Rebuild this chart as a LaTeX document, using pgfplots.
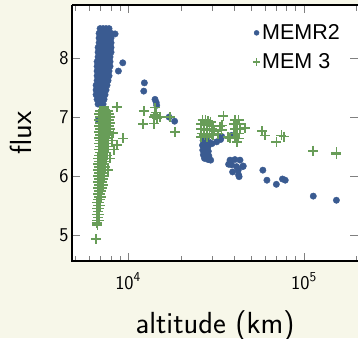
\documentclass[border=0pt]{standalone}
\usepackage{fontspec}
\usepackage{pgfplots}
\pgfplotsset{compat=1.18}
\usetikzlibrary{backgrounds}
\renewcommand{\familydefault}{\sfdefault}
\newfontfamily\legfont{Liberation Sans}
\definecolor{bgcream}{RGB}{247,247,233}
\definecolor{memblue}{RGB}{58,91,145}
\definecolor{memgreen}{RGB}{104,157,88}
\begin{document}
\begin{tikzpicture}
\begin{axis}[
 at={(0pt,0pt)}, anchor=south west,
 scale only axis, width=286pt, height=256pt,
 xmode=log, xmin=4800, xmax=203000, ymin=4.56, ymax=8.9,
 xtick={10000,100000}, xticklabels={10\textsuperscript{4},10\textsuperscript{5}},
 minor xtick={5000,6000,7000,8000,9000,20000,30000,40000,50000,60000,70000,80000,90000,200000},
 ytick={5,6,7,8},
 /pgf/number format/assume math mode=true,
 axis line style={draw=none},
 axis background/.style={fill=white},
 tick style={draw=gray, line width=0.8pt},
 major tick length=8pt, minor tick length=5.5pt,
 ticklabel style={font=\fontsize{19.5}{23}\selectfont},
 xticklabel style={yshift=-8pt},
 label style={font=\fontsize{30.5}{36}\selectfont},
 xlabel={altitude (km)}, ylabel={flux},
 xlabel style={at={(axis description cs:0.5,-0.28125)}, anchor=base},
 ylabel style={at={(axis description cs:-0.14,0.5)}, anchor=base},
 legend style={draw=none, fill=none, at={(axis description cs:0.9476,0.936)}, anchor=north east, font=\legfont\fontsize{21.5}{25}\selectfont, row sep=8.6pt, inner sep=1pt, nodes={inner sep=2pt}},
 legend cell align=left,
 after end axis/.code={
   \draw[black, line width=1.6pt] (rel axis cs:0,1) -- (rel axis cs:0,0) -- (rel axis cs:1,0);
   \draw[black, line width=1.3pt] (rel axis cs:0,1) -- (rel axis cs:1,1);
 },
]
\addplot[only marks, mark=*, mark size=3.2pt, color=memblue, mark options={draw=memblue, fill=memblue}, legend image post style={mark size=2.5pt}] coordinates {
(6933,8.50)(7211,8.50)(7499,8.50)(7799,8.50)
(6843,8.42)(7118,8.42)(7402,8.42)(7698,8.42)(8006,8.42)
(6843,8.34)(7025,8.34)(7306,8.34)(7598,8.34)(7901,8.34)(8006,8.34)
(6843,8.26)(7118,8.26)(7402,8.26)(7698,8.26)(8006,8.26)
(6754,8.18)(7025,8.18)(7306,8.18)(7598,8.18)(7901,8.18)(8006,8.18)
(6754,8.10)(7118,8.10)(7402,8.10)(7698,8.10)(8006,8.10)
(6754,8.02)(7025,8.02)(7306,8.02)(7598,8.02)(7901,8.02)
(6667,7.94)(6933,7.94)(7211,7.94)(7499,7.94)(7901,7.94)
(6667,7.86)(7025,7.86)(7306,7.86)(7598,7.86)(7901,7.86)
(6667,7.78)(6933,7.78)(7211,7.78)(7499,7.78)(7799,7.78)
(6667,7.70)(7025,7.70)(7306,7.70)(7598,7.70)(7799,7.70)
(6667,7.62)(6933,7.62)(7211,7.62)(7499,7.62)(7698,7.62)
(6580,7.54)(6843,7.54)(7118,7.54)(7402,7.54)(7598,7.54)
(6580,7.46)(6843,7.46)(7118,7.46)(7402,7.46)(7499,7.46)
(6580,7.38)(6843,7.38)(7118,7.38)(7402,7.38)
(6667,7.30)(6933,7.30)(7211,7.30)(7306,7.30)
(6754,7.22)(7025,7.22)(7211,7.22)
(8440,8.41)(9330,7.92)(8810,7.78)(6780,6.95)
(12380,7.58)(12280,7.44)(14230,7.30)(14450,7.25)(14550,7.20)(17100,7.00)(18400,6.93)
(26700,6.60)(27800,6.60)(28800,6.58)(26500,6.52)(27500,6.52)(28500,6.50)
(26600,6.44)(27600,6.44)(28600,6.42)(26800,6.36)(27800,6.36)(28800,6.34)
(27200,6.30)(28500,6.28)(29500,6.27)(30000,6.55)(31900,6.58)(33600,6.62)(34100,6.67)(38800,6.69)
(38000,6.27)(40500,6.28)(43300,6.27)(38800,6.19)(44900,6.16)(39300,6.07)
(42300,6.10)(42800,5.99)(41400,6.16)(37300,6.20)(45200,6.17)(42500,6.02)
(58400,6.10)(61600,5.93)(69700,5.86)(75500,5.95)(78300,5.93)(113000,5.66)(153000,5.59)
};
\addlegendentry{MEMR2}
\addplot[only marks, mark=+, mark size=5pt, color=memgreen, line width=1.6pt, legend image post style={mark size=3.6pt}] coordinates {
(6933,7.10)(7118,7.10)(7306,7.10)(7499,7.10)(7698,7.10)
(6843,7.05)(7025,7.05)(7211,7.05)(7402,7.05)(7598,7.05)(7799,7.05)
(6933,7.00)(7118,7.00)(7306,7.00)(7499,7.00)(7698,7.00)(7901,7.00)
(6843,6.95)(7025,6.95)(7211,6.95)(7402,6.95)(7598,6.95)(7799,6.95)
(6933,6.90)(7118,6.90)(7306,6.90)(7499,6.90)(7698,6.90)(7901,6.90)
(6843,6.85)(7025,6.85)(7211,6.85)(7402,6.85)(7598,6.85)(7799,6.85)
(6933,6.80)(7118,6.80)(7306,6.80)(7499,6.80)(7698,6.80)(7901,6.80)
(6843,6.75)(7025,6.75)(7211,6.75)(7402,6.75)(7598,6.75)(7799,6.75)
(6933,6.70)(7118,6.70)(7306,6.70)(7499,6.70)(7698,6.70)
(6843,6.65)(7025,6.65)(7211,6.65)(7402,6.65)(7598,6.65)
(6933,6.60)(7118,6.60)(7306,6.60)(7499,6.60)(7698,6.60)
(6843,6.55)(7025,6.55)(7211,6.55)(7402,6.55)(7598,6.55)
(6933,6.50)(7118,6.50)(7306,6.50)(7499,6.50)(7698,6.50)
(6843,6.45)(7025,6.45)(7211,6.45)(7402,6.45)(7598,6.45)
(6933,6.40)(7118,6.40)(7306,6.40)(7499,6.40)
(6843,6.35)(7025,6.35)(7211,6.35)(7402,6.35)(7598,6.35)
(6754,6.30)(6933,6.30)(7118,6.30)(7306,6.30)(7499,6.30)
(6843,6.25)(7025,6.25)(7211,6.25)(7402,6.25)
(6754,6.20)(6933,6.20)(7118,6.20)(7306,6.20)
(6843,6.15)(7025,6.15)(7211,6.15)(7402,6.15)
(6754,6.10)(6933,6.10)(7118,6.10)(7306,6.10)
(6843,6.05)(7025,6.05)(7211,6.05)
(6754,6.00)(6933,6.00)(7118,6.00)(7306,6.00)
(6843,5.95)(7025,5.95)(7211,5.95)
(6754,5.90)(6933,5.90)(7118,5.90)
(6843,5.85)(7025,5.85)(7211,5.85)
(6754,5.80)(6933,5.80)(7118,5.80)
(6843,5.75)(7025,5.75)
(6754,5.70)(6933,5.70)
(6843,5.65)(7025,5.65)
(6754,5.60)(6933,5.60)
(6667,5.55)(6843,5.55)
(6754,5.50)(6933,5.50)
(6667,5.45)(6843,5.45)
(6754,5.40)
(6667,5.35)(6843,5.35)
(6754,5.30)
(6667,5.25)(6843,5.25)
(6667,5.20)(6700,5.17)(6580,4.93)
(8620,7.17)(8250,6.73)(8620,6.53)(9330,6.64)(8100,6.60)(8300,6.45)(7900,6.30)(7700,6.10)
(12300,7.10)(12200,6.88)(14200,7.16)(14300,7.04)(14000,7.00)(14600,6.98)(14000,6.89)
(14400,7.08)(15200,7.00)(17300,7.00)(18500,6.75)
(26500,6.95)(27500,6.95)(28500,6.93)(29500,6.92)
(26000,6.88)(27000,6.88)(28000,6.86)(29000,6.86)(30000,6.86)(30500,6.84)
(26000,6.80)(27000,6.80)(28000,6.78)(29000,6.78)(30000,6.80)(30500,6.78)(31000,6.76)
(26200,6.72)(27200,6.70)(28200,6.72)(29000,6.70)(30000,6.72)(30500,6.70)
(26000,6.66)(28000,6.66)
(34800,7.02)(34100,6.86)(33300,6.84)(37100,6.66)(32500,6.72)(34000,6.78)
(40500,6.95)(42500,6.95)(40000,6.88)(41500,6.88)(43000,6.88)
(40500,6.80)(42000,6.80)(43500,6.80)(40000,6.72)(41500,6.72)(43000,6.72)
(40500,6.64)(42500,6.64)(41500,6.58)(46200,6.81)(38000,6.64)
(57900,6.76)(60000,6.69)(69700,6.58)(74500,6.69)(77000,6.67)(113000,6.43)(153000,6.40)(153000,6.37)
};
\addlegendentry{MEM 3}
\end{axis}
\pgfresetboundingbox
\useasboundingbox (-72pt,-77pt) rectangle (286pt,261pt);
\begin{scope}[on background layer]
\fill[bgcream] (-72pt,-77pt) rectangle (286pt,261pt);
\end{scope}
\end{tikzpicture}
\end{document}
